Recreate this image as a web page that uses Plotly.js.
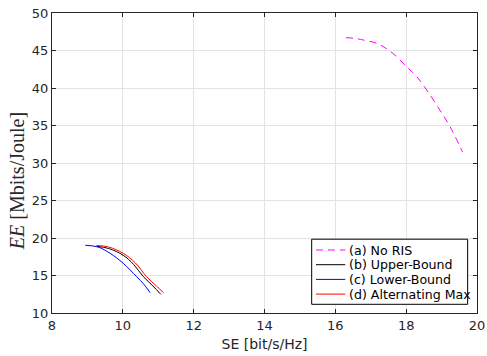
<!DOCTYPE html>
<html><head><meta charset="utf-8">
<script src="https://cdn.plot.ly/plotly-3.0.1.min.js"></script>
<style>html,body{margin:0;padding:0;background:#fff;}#chart{width:487px;height:356px;}</style>
</head><body><div id="chart"></div>
<script>
const seriesNames = ["(a) No RIS", "(b) Upper-Bound", "(c) Lower-Bound", "(d) Alternating Max"];
const seriesColors = ["#ff00ff", "#000000", "#0000ff", "#ff0000"];
const noRisSE = [16.30, 16.55, 16.79, 17.17, 17.40, 17.68, 18.01, 18.30, 18.58, 18.95, 19.24, 19.59];
const noRisEE = [46.71, 46.62, 46.40, 45.96, 45.38, 44.40, 42.84, 41.51, 39.73, 37.07, 34.84, 31.47];
const upperSE = [9.26, 9.6, 10.01, 10.3, 10.58, 10.85, 11.07];
const upperEE = [18.9, 18.6, 17.7, 16.5, 14.84, 13.6, 12.5];
const lowerSE = [8.94, 9.3, 9.64, 10.01, 10.39, 10.6, 10.77];
const lowerEE = [19.03, 18.8, 17.96, 16.63, 14.84, 13.8, 12.7];
const altSE = [9.26, 9.6, 10.01, 10.35, 10.67, 10.95, 11.15];
const altEE = [19.0, 18.8, 17.96, 16.7, 14.84, 13.6, 12.7];
const xTicks = [8, 10, 12, 14, 16, 18, 20];
const yTicks = [10, 15, 20, 25, 30, 35, 40, 45, 50];

const sans = "DejaVu Sans, Arial, sans-serif";
const dashes = ["7px,5px", "solid", "solid", "solid"];
const xs = [noRisSE, upperSE, lowerSE, altSE];
const ys = [noRisEE, upperEE, lowerEE, altEE];
const traces = xs.map((x, i) => ({
  x: x, y: ys[i], name: seriesNames[i], mode: "lines", showlegend: false,
  line: {color: seriesColors[i], width: 1, dash: dashes[i], shape: "spline"}
}));

// custom legend (paper coordinates)
const legBox = {x0: 0.611, x1: 0.978, y0: 0.029, y1: 0.246};
const legRowY = [0.210, 0.161, 0.112, 0.063];
const legLineX = [0.621, 0.690];
const legTextX = 0.694;
const shapes = [{type: "rect", xref: "paper", yref: "paper", x0: legBox.x0, x1: legBox.x1, y0: legBox.y0, y1: legBox.y1,
  line: {color: "#000000", width: 1}, fillcolor: "#ffffff", layer: "above"}];
const annotations = [];
seriesNames.forEach((n, i) => {
  shapes.push({type: "line", xref: "paper", yref: "paper", x0: legLineX[0], x1: legLineX[1], y0: legRowY[i], y1: legRowY[i],
    line: {color: seriesColors[i], width: 1, dash: i === 0 ? "7px,5px" : "solid"}, layer: "above"});
  annotations.push({xref: "paper", yref: "paper", x: legTextX, y: legRowY[i], xanchor: "left", yanchor: "middle",
    text: n, showarrow: false, font: {family: sans, size: 12.6, color: "#000000"}});
});
annotations.push({xref: "paper", yref: "paper", x: -0.082, y: 0.44, xanchor: "center", yanchor: "middle",
  textangle: -90, showarrow: false, text: "<i>EE</i> [Mbits/Joule]",
  font: {family: "Liberation Serif, Times New Roman, serif", size: 20, color: "#262626"}});

const axisCommon = {
  showline: true, linecolor: "#262626", linewidth: 1, mirror: "ticks",
  ticks: "inside", ticklen: 4, tickcolor: "#262626",
  showgrid: true, gridcolor: "#e3e3e3", gridwidth: 1, zeroline: false,
  tickfont: {family: sans, size: 13, color: "#262626"}
};
const layout = {
  width: 487, height: 356,
  margin: {l: 52, r: 10, t: 13, b: 43},
  paper_bgcolor: "#ffffff", plot_bgcolor: "#ffffff",
  showlegend: false,
  xaxis: Object.assign({}, axisCommon, {
    range: [8, 20], tickvals: xTicks, ticktext: xTicks.map(String),
    title: {text: "SE [bit/s/Hz]", standoff: 7, font: {family: sans, size: 14, color: "#262626"}}
  }),
  yaxis: Object.assign({}, axisCommon, {
    range: [10, 50], tickvals: yTicks, ticktext: yTicks.map(String)
  }),
  shapes: shapes,
  annotations: annotations
};
Plotly.newPlot("chart", traces, layout, {staticPlot: true, displayModeBar: false});
</script></body></html>
